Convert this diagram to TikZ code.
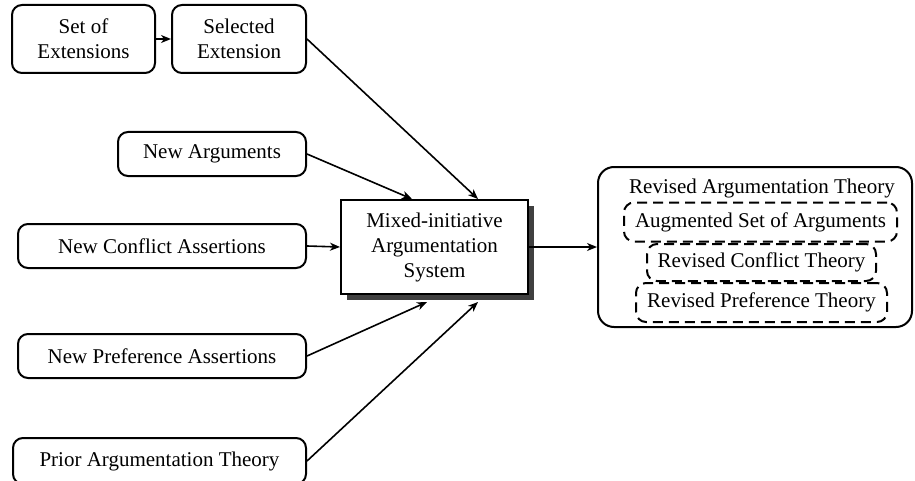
\documentclass[tikz,border=0pt]{standalone}
\usepackage{fontspec}
\setmainfont{Liberation Serif}
\usepackage{tikz}
\usetikzlibrary{shadows,arrows.meta}

\begin{document}
\begin{tikzpicture}[x=.5pt,y=-.5pt,
	font=\fontsize{10.5}{12.5}\selectfont,
	inbox/.style={draw,line width=1pt,rounded corners=5pt,align=center,inner sep=0pt},
	dbox/.style={draw,line width=1pt,rounded corners=5pt,dash pattern=on 5pt off 3pt,inner sep=0pt},
	arr/.style={-{Stealth[length=5pt,width=4pt,inset=1.5pt]},line width=.8pt}]

	\useasboundingbox (0,0) rectangle (915,481);

	% inputs
	\node[inbox,minimum width=71.5pt,minimum height=34pt] (ext) at (83.5,39) {Set of\\Extensions};
	\node[inbox,minimum width=67pt,minimum height=34pt] (sel) at (239,39) {Selected\\Extension};
	\node[inbox,minimum width=94pt,minimum height=22pt] (arg) at (212,154) {New Arguments};
	\node[inbox,minimum width=144pt,minimum height=22pt] (con) at (162,246) {New Conflict Assertions};
	\node[inbox,minimum width=144pt,minimum height=22pt] (pre) at (162,356) {New Preference Assertions};
	\node[inbox,minimum width=146.5pt,minimum height=23pt] (pri) at (159.5,461) {Prior Argumentation Theory};

	% system
	\node[draw,line width=1pt,fill=white,align=center,minimum width=93.5pt,minimum height=47pt,
		drop shadow={shadow xshift=3pt,shadow yshift=-3pt,fill=black!75,opacity=1}] (sys) at (434.5,247)
		{Mixed-initiative\\Argumentation\\System};

	% output
	\node[draw,line width=1pt,rounded corners=8pt,minimum width=157pt,minimum height=80pt] (out) at (755,247) {};
	\node (rat) at (762,188) {Revised Argumentation Theory};
	\node[dbox,minimum width=136.5pt,minimum height=19.5pt] (aug) at (760.5,222) {Augmented Set of Arguments};
	\node[dbox,minimum width=114.5pt,minimum height=18.5pt] (rct) at (761.5,262.5) {Revised Conflict Theory};
	\node[dbox,minimum width=125.5pt,minimum height=19.5pt] (rpt) at (761.5,302.5) {Revised Preference Theory};

	\coordinate (t1) at (412,199);
	\coordinate (t2) at (478,199);
	\coordinate (b1) at (427,302);
	\coordinate (b2) at (478,302);

	\draw[arr] (ext) -- (sel);
	\draw[arr] (sel.east) -- (t2);
	\draw[arr] (arg.east) -- (t1);
	\draw[arr] (con.east) -- (sys.west);
	\draw[arr] (pre.east) -- (b1);
	\draw[arr] (pri.east) -- (b2);
	\draw[arr] (sys.east) -- (out.west);
\end{tikzpicture}
\end{document}
